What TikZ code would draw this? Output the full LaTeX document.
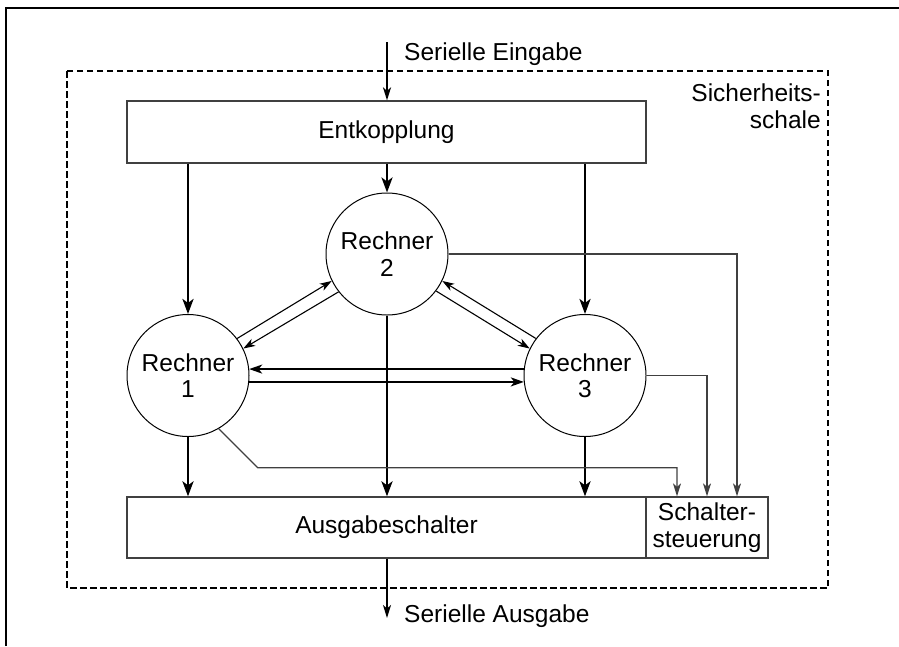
\documentclass[tikz,border=0pt]{standalone}
\usepackage{fontspec}
\setmainfont{Liberation Sans}
\usetikzlibrary{arrows.meta}
\begin{document}
\begin{tikzpicture}[x=1pt,y=-1pt,
  font=\fontsize{24.5}{26.5}\selectfont,
  box/.style={draw=black!75,line width=1.3pt,rectangle,inner sep=0pt,align=center},
  rechner/.style={draw=black,line width=1pt,circle,minimum size=122pt,inner sep=0pt,align=center},
  thick arrow/.style={line width=2.7pt,-{Stealth[length=15pt,width=11pt,inset=4pt]}},
  mid arrow/.style={line width=2pt,-{Stealth[length=13pt,width=9pt,inset=3.5pt]}},
  io arrow/.style={line width=1.6pt,-{Stealth[length=13pt,width=8pt,inset=3.5pt]}},
  thin arrow/.style={line width=1.1pt,-{Stealth[length=12pt,width=8pt,inset=3.5pt]}},
  signal/.style={draw=black!75,line width=1.2pt,-{Stealth[length=13pt,width=8pt,inset=3.5pt]}},
  shell/.style={draw=black,line width=1.1pt,dash pattern=on 6.5pt off 3.5pt}]

\useasboundingbox (0,0) rectangle (899,646);

% outer frame (top and left edge)
\draw[line width=1.3pt] (6,646) -- (6,8) -- (899,8);

% safety shell
\draw[shell] (67,71) rectangle (828,588);
\node[anchor=north east,align=right,inner sep=0pt] (shelltxt) at (821,84) {Sicherheits-\\schale};

% blocks
\node[box,minimum width=519pt,minimum height=62pt] (ent) at (386.5,132) {Entkopplung};
\node[box,minimum width=519pt,minimum height=61pt] (aus) at (386.5,527.5) {Ausgabeschalter};
\node[box,minimum width=122pt,minimum height=61pt] (sst) at (707,527.5) {Schalter-\\steuerung};

\node[rechner] (r1) at (188,375.5) {Rechner\\1};
\node[rechner] (r2) at (387,254) {Rechner\\2};
\node[rechner] (r3) at (585,375.5) {Rechner\\3};

% serial input and output
\coordinate (inA) at (387,42);
\coordinate (outA) at (387,618);
\draw[io arrow] (inA) -- (inA |- ent.north);
\draw[io arrow] (outA |- aus.south) -- (outA);
\node[anchor=base west,inner sep=0pt] (intxt) at (404,60) {Serielle Eingabe};
\node[anchor=base west,inner sep=0pt] (outtxt) at (404,622) {Serielle Ausgabe};

% distribution to the computers
\draw[thick arrow] (ent.south -| r1) -- (r1.north);
\draw[thick arrow] (ent.south -| r2) -- (r2.north);
\draw[thick arrow] (ent.south -| r3) -- (r3.north);

% results to the output switch
\draw[thick arrow] (r1.south) -- (r1.south |- aus.north);
\draw[thick arrow] (r2.south) -- (r2.south |- aus.north);
\draw[thick arrow] (r3.south) -- (r3.south |- aus.north);

% mutual exchange between the computers
\draw[thin arrow] (r1.37) -- (r2.206);
\draw[thin arrow] (r2.218) -- (r1.26);
\draw[thin arrow] (r3.143) -- (r2.-26);
\draw[thin arrow] (r2.-37) -- (r3.154);
\draw[mid arrow] (r3.174) -- (r1.6);
\draw[mid arrow] (r1.-6) -- (r3.186);

% signals to the switch control
\draw[signal] (r1.-60) -- ++(39,39) -| ([xshift=-30pt]sst.north);
\draw[signal] (r3.east) -| (sst.north);
\draw[signal] (r2.east) -| ([xshift=30pt]sst.north);
\end{tikzpicture}
\end{document}
